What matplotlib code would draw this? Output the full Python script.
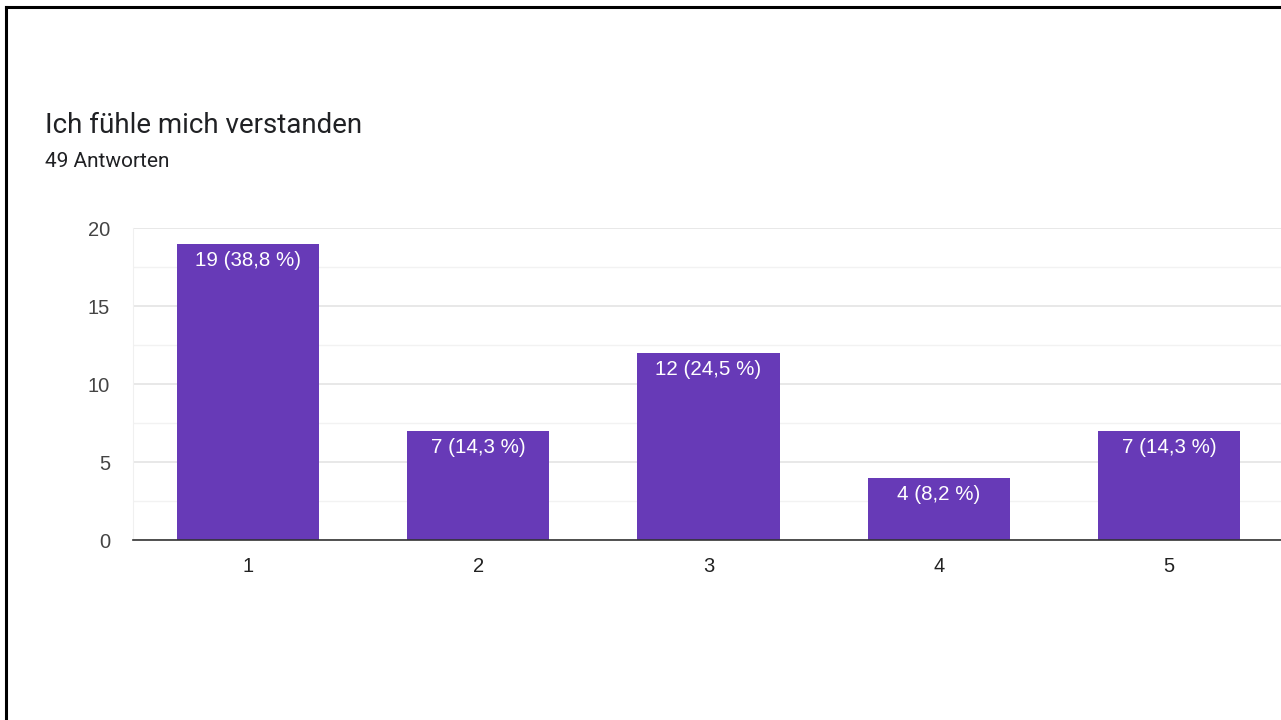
import matplotlib
matplotlib.use("Agg")
import matplotlib.pyplot as plt
from matplotlib.lines import Line2D

# survey answers: scale 1..5, number of responses
categories = [1, 2, 3, 4, 5]
counts = [19, 7, 12, 4, 7]
labels = ["19 (38,8 %)", "7 (14,3 %)", "12 (24,5 %)", "4 (8,2 %)", "7 (14,3 %)"]
yticks = [0, 5, 10, 15, 20]

title = "Ich fühle mich verstanden"
subtitle = "49 Antworten"

W, H = 1281, 720
fig = plt.figure(figsize=(W / 100, H / 100), dpi=100, facecolor="white")

# plot area: left edge at x=133, baseline y=540, top gridline y=228
x0, x1 = 133, 1284
y0, y1 = 540, 228
ax = fig.add_axes([x0 / W, (H - y0) / H, (x1 - x0) / W, (y0 - y1) / H])
ax.set_xlim(0.5, 5.5)
ax.set_ylim(0, 20)

ax.bar(categories, counts, width=0.617, color="#673ab7", zorder=3)

for c, v, t in zip(categories, counts, labels):
    ax.annotate(t, (c, v), xytext=(0, -5), textcoords="offset points",
                ha="center", va="top", color="white", fontsize=14.8,
                family="Liberation Sans", zorder=4)

# grid: major every 5, lighter minor lines in between
ax.set_yticks(yticks)
ax.set_yticks([2.5, 7.5, 12.5, 17.5], minor=True)
ax.grid(axis="y", which="major", color="#e4e4e4", lw=1.2, zorder=0)
ax.grid(axis="y", which="minor", color="#f2f2f2", lw=1.0, zorder=0)
ax.tick_params(axis="y", which="both", length=0, pad=16.5,
               labelsize=14.5, labelcolor="#444444")
ax.tick_params(axis="x", length=0, pad=12.5, labelsize=14.5, labelcolor="#222222")
ax.set_xticks(categories)
for lab in ax.get_xticklabels() + ax.get_yticklabels():
    lab.set_family("Liberation Sans")

for s in ["top", "right"]:
    ax.spines[s].set_visible(False)
ax.spines["left"].set_color("#f0f0f0")
ax.spines["bottom"].set_color("#333333")
ax.spines["bottom"].set_linewidth(1.2)
ax.spines["bottom"].set_zorder(5)

fig.text(45 / W, 1 - 133 / H, title, fontsize=20, family="Roboto",
         color="#202124", va="baseline")
fig.text(45 / W, 1 - 167 / H, subtitle, fontsize=15, family="Roboto",
         color="#202124", va="baseline")

# black frame along the top and left edges
fig.add_artist(Line2D([6 / W, 6 / W], [0, 1 - 7 / H], color="black", lw=2.2,
                      transform=fig.transFigure))
fig.add_artist(Line2D([6 / W, 1], [1 - 7 / H, 1 - 7 / H], color="black", lw=2.2,
                      transform=fig.transFigure))

fig.savefig("out.png", dpi=100, facecolor="white")
